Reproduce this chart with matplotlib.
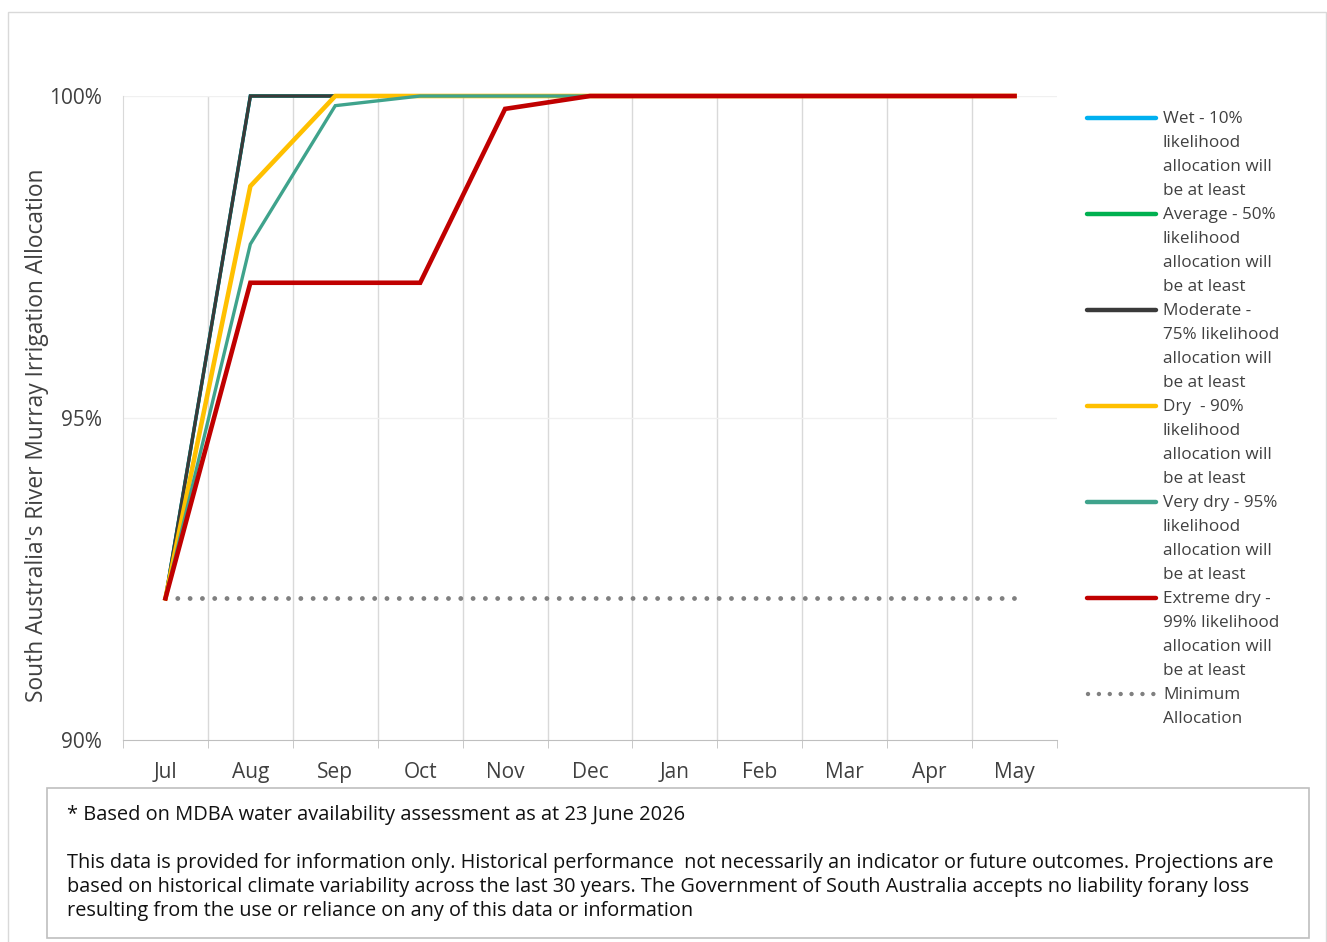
import matplotlib.pyplot as plt
from matplotlib.lines import Line2D
from matplotlib.patches import Rectangle

plt.rcParams['font.family'] = ['Open Sans', 'DejaVu Sans']

# 数据
months = ['Jul', 'Aug', 'Sep', 'Oct', 'Nov', 'Dec', 'Jan', 'Feb', 'Mar', 'Apr', 'May']
wet = [92.2, 100, 100, 100, 100, 100, 100, 100, 100, 100, 100]
average = [92.2, 100, 100, 100, 100, 100, 100, 100, 100, 100, 100]
moderate = [92.2, 100, 100, 100, 100, 100, 100, 100, 100, 100, 100]
dry = [92.2, 98.6, 100, 100, 100, 100, 100, 100, 100, 100, 100]
very_dry = [92.2, 97.7, 99.85, 100, 100, 100, 100, 100, 100, 100, 100]
extreme_dry = [92.2, 97.1, 97.1, 97.1, 99.8, 100, 100, 100, 100, 100, 100]
minimum = [92.2] * len(months)

labels = ['Wet - 10%\nlikelihood\nallocation will\nbe at least',
          'Average - 50%\nlikelihood\nallocation will\nbe at least',
          'Moderate -\n75% likelihood\nallocation will\nbe at least',
          'Dry  - 90%\nlikelihood\nallocation will\nbe at least',
          'Very dry - 95%\nlikelihood\nallocation will\nbe at least',
          'Extreme dry -\n99% likelihood\nallocation will\nbe at least',
          'Minimum\nAllocation']

footnote = '* Based on MDBA water availability assessment as at 23 June 2026'
disclaimer = ['This data is provided for information only. Historical performance  not necessarily an indicator or future outcomes. Projections are',
              'based on historical climate variability across the last 30 years. The Government of South Australia accepts no liability forany loss',
              'resulting from the use or reliance on any of this data or information']

colors = ['#00B0F0', '#00B050', '#3A3A3A', '#FFC000', '#3FA38C', '#C00000', '#808080']
widths = [2.5, 2.2, 2.4, 3.3, 2.4, 3.3]
series = [wet, average, moderate, dry, very_dry, extreme_dry]

text_col = '#404040'
W, H = 1327, 942

fig = plt.figure(figsize=(W / 100, H / 100), dpi=100)
fig.patches.append(Rectangle((8 / W, -0.01), 1318 / W, 1 - 12 / H + 0.01,
                             transform=fig.transFigure, fill=False,
                             edgecolor='#d9d9d9', lw=1))

ax = fig.add_axes([123 / W, 1 - 740 / H, 934 / W, 644 / H])
x = list(range(len(months)))

for s, c, w in zip(series, colors, widths):
    ax.plot(x, s, color=c, lw=w, clip_on=False, solid_joinstyle='miter', zorder=3)
ax.plot(x, minimum, color=colors[6], lw=3.5, linestyle=(0, (0.001, 2.53)),
        dash_capstyle='round', zorder=2)

ax.set_xlim(-0.5, len(months) - 0.5)
ax.set_ylim(90, 100)
ax.set_yticks([90, 95, 100])
ax.set_yticklabels(['90%', '95%', '100%'])
ax.set_xticks(x)
ax.set_xticklabels(months)
ax.tick_params(axis='x', length=0, labelsize=15, colors=text_col, pad=16)
ax.tick_params(axis='y', length=0, labelsize=15, colors=text_col, pad=15)

bounds = [i + 0.5 for i in range(len(months) - 1)]
for b in bounds:
    ax.axvline(b, color='#d9d9d9', lw=1, zorder=1)
ax.set_xticks([-0.5] + bounds + [len(months) - 0.5], minor=True)
ax.tick_params(axis='x', which='minor', length=6, color='#bfbfbf', direction='out')
ax.axhline(95, color='#f0f0f0', lw=1, zorder=1)
ax.axhline(100, color='#f0f0f0', lw=1, zorder=1)

for sp in ['top', 'right']:
    ax.spines[sp].set_visible(False)
ax.spines['left'].set_color('#d9d9d9')
ax.spines['bottom'].set_color('#bfbfbf')

fig.text(37 / W, 1 - 435 / H, "South Australia's River Murray Irrigation Allocation",
         rotation=90, ha='center', va='center', fontsize=16.4, color=text_col)

# 图例 (手动画)
entry_y = [118, 214, 310, 406, 502, 598, 694]
for i, (lab, c, yy) in enumerate(zip(labels, colors, entry_y)):
    yf = 1 - yy / H
    if i == 6:
        ln = Line2D([1088 / W, 1155 / W], [yf, yf], transform=fig.transFigure,
                    color=c, lw=3.2, linestyle=(0, (0.001, 2.45)), dash_capstyle='round')
    else:
        ln = Line2D([1087 / W, 1156 / W], [yf, yf], transform=fig.transFigure,
                    color=c, lw=3.2, solid_capstyle='round')
    fig.lines.append(ln)
    for k, part in enumerate(lab.split('\n')):
        fig.text(1163 / W, 1 - (yy + 1 + 24 * k) / H, part, ha='left', va='center',
                 fontsize=12.3, color=text_col)

# 脚注框
fig.patches.append(Rectangle((47 / W, 1 - 938 / H), 1262 / W, 150 / H,
                             transform=fig.transFigure, fill=False,
                             edgecolor='#bfbfbf', lw=1.2))
fig.text(67 / W, 1 - 815 / H, footnote, ha='left', va='center',
         fontsize=14.4, color='#111111')
for k, line in enumerate(disclaimer):
    fig.text(67 / W, 1 - (863 + 24 * k) / H, line, ha='left', va='center',
             fontsize=14.3, color='#111111')

fig.savefig('out.png', dpi=100)
plt.close()
